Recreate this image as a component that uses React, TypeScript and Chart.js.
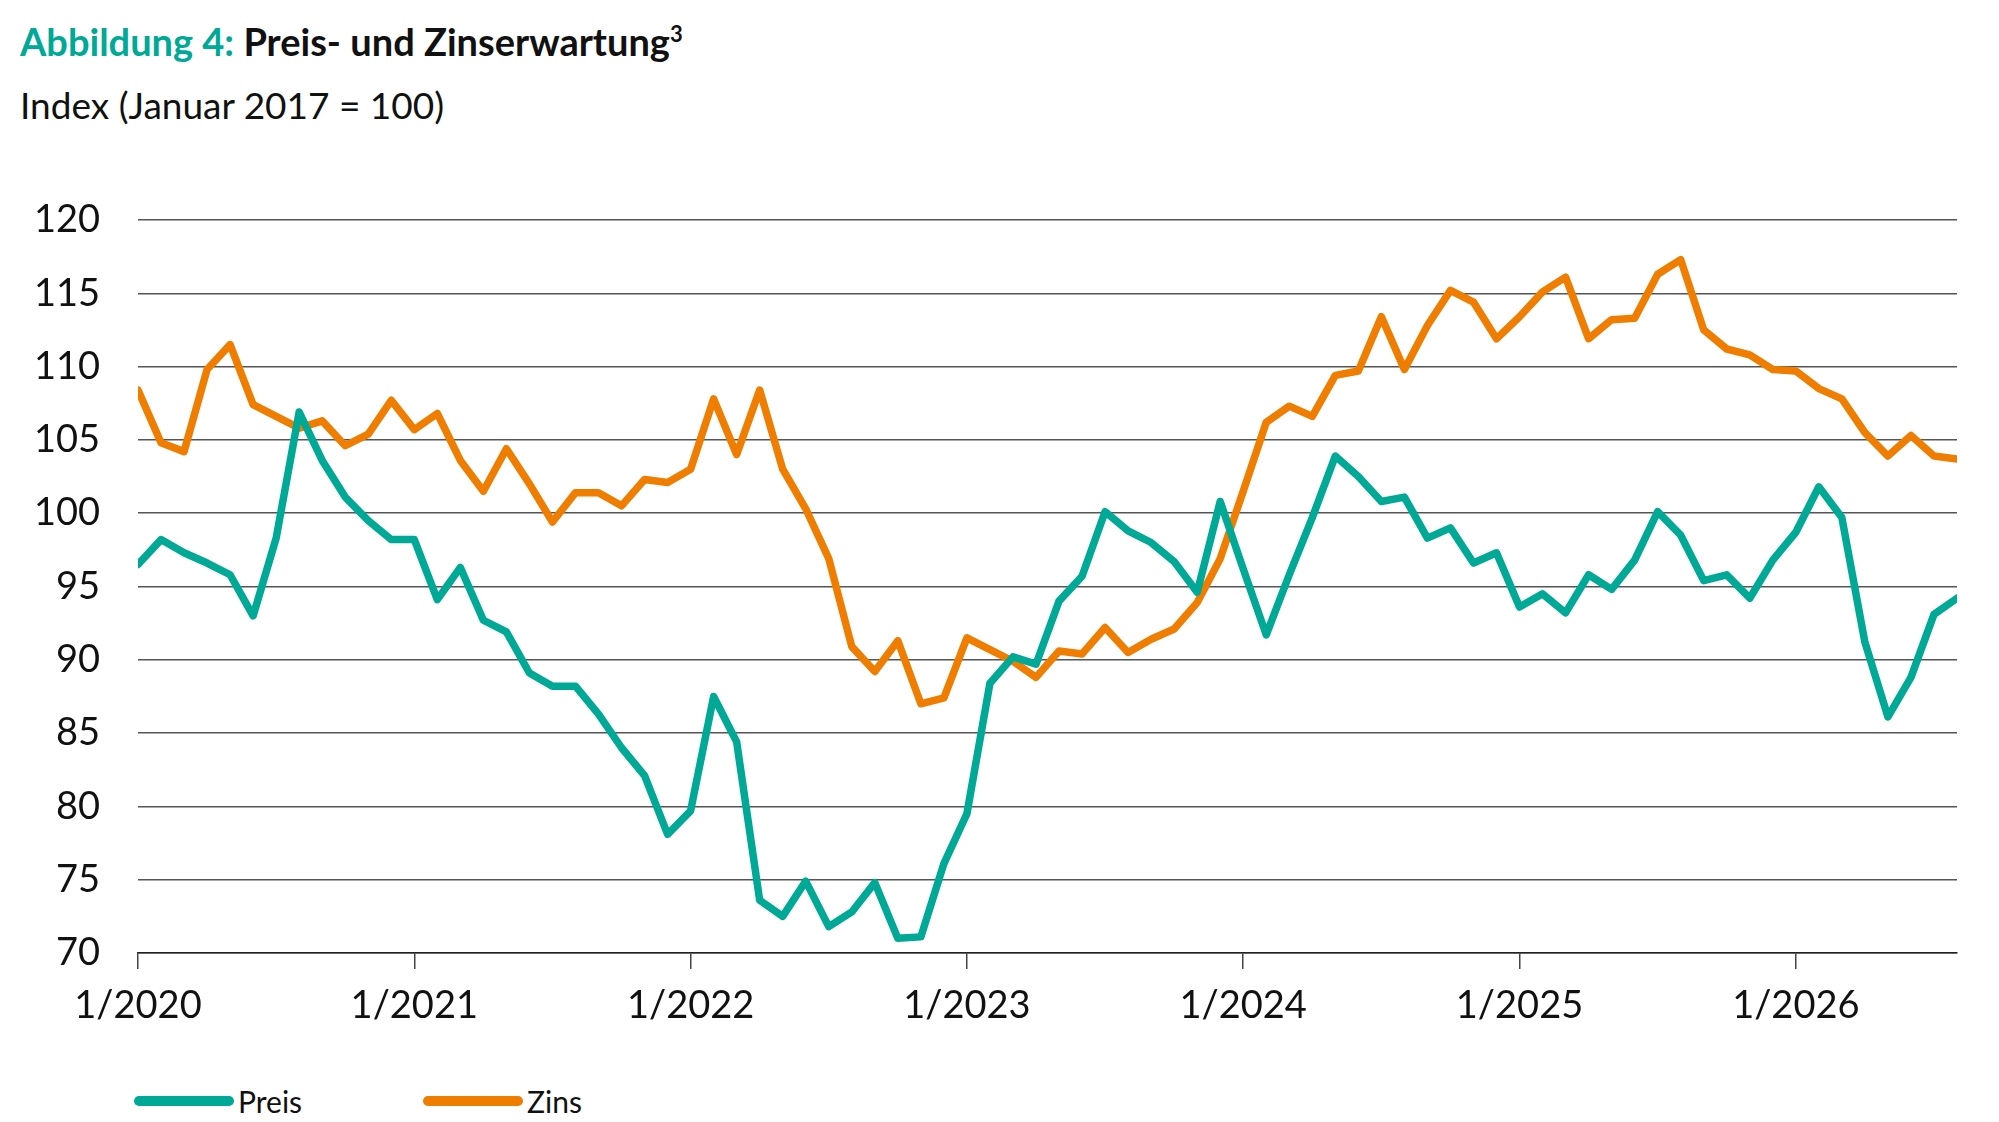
import React, { useEffect, useRef } from "react";
import { Chart, registerables } from "chart.js";
Chart.register(...registerables);

const startYear = 2020;
const preis = [96.5, 98.2, 97.3, 96.6, 95.8, 93.0, 98.3, 106.9, 103.6, 101.1, 99.5, 98.2, 98.2, 94.1, 96.3, 92.7, 91.9, 89.1, 88.2, 88.2, 86.3, 84.0, 82.1, 78.1, 79.7, 87.5, 84.4, 73.6, 72.5, 74.9, 71.8, 72.8, 74.8, 71.0, 71.1, 76.1, 79.5, 88.4, 90.2, 89.7, 94.0, 95.7, 100.1, 98.8, 98.0, 96.7, 94.6, 100.8, 96.2, 91.7, 95.8, 99.7, 103.9, 102.5, 100.8, 101.1, 98.3, 99.0, 96.6, 97.3, 93.6, 94.5, 93.2, 95.8, 94.8, 96.8, 100.1, 98.5, 95.4, 95.8, 94.2, 96.8, 98.7, 101.8, 99.7, 91.2, 86.1, 88.8, 93.1, 94.2];
const zins = [108.4, 104.8, 104.2, 109.8, 111.5, 107.4, 106.6, 105.8, 106.3, 104.6, 105.4, 107.7, 105.7, 106.8, 103.6, 101.5, 104.4, 102.0, 99.4, 101.4, 101.4, 100.5, 102.3, 102.1, 103.0, 107.8, 104.0, 108.4, 103.0, 100.3, 96.9, 90.9, 89.2, 91.3, 87.0, 87.4, 91.5, 90.7, 89.9, 88.8, 90.6, 90.4, 92.2, 90.5, 91.4, 92.1, 93.9, 96.9, 101.5, 106.2, 107.3, 106.6, 109.4, 109.7, 113.4, 109.8, 112.8, 115.2, 114.4, 111.9, 113.4, 115.1, 116.1, 111.9, 113.2, 113.3, 116.3, 117.3, 112.5, 111.2, 110.8, 109.8, 109.7, 108.5, 107.8, 105.5, 103.9, 105.3, 103.9, 103.7];
const yTicks = [70, 75, 80, 85, 90, 95, 100, 105, 110, 115, 120];
const TEAL = "#00A996";
const ORANGE = "#EF7D00";
const FONT = "Lato, 'Open Sans', sans-serif";

export default function App() {
  const ref = useRef<HTMLCanvasElement>(null);
  useEffect(() => {
    const ctx = ref.current!;
    const chart = new Chart(ctx, {
      type: "line",
      data: {
        datasets: [
          { label: "Preis", data: preis.map((v, i) => ({ x: i, y: v })), borderColor: TEAL, borderWidth: 7.5, pointRadius: 0, tension: 0, borderJoinStyle: "round", borderCapStyle: "round" },
          { label: "Zins", data: zins.map((v, i) => ({ x: i, y: v })), borderColor: ORANGE, borderWidth: 7.5, pointRadius: 0, tension: 0, borderJoinStyle: "round", borderCapStyle: "round" },
        ],
      },
      options: {
        animation: false,
        responsive: false,
        layout: { padding: { left: 0, right: 42, top: 70, bottom: 0 } },
        plugins: { legend: { display: false }, tooltip: { enabled: false } },
        scales: {
          x: {
            type: "linear",
            min: 0,
            max: preis.length - 1,
            afterBuildTicks: (s: any) => { s.ticks = [0, 12, 24, 36, 48, 60, 72].map((v) => ({ value: v })); },
            afterFit: (s: any) => { s.height = 77; },
            ticks: { callback: (v: any) => `1/${startYear + Math.round(v / 12)}`, font: { family: FONT, size: 38 }, color: "#111", padding: 14, maxRotation: 0 },
            grid: { drawOnChartArea: false, drawTicks: true, tickLength: 16, color: "#444", lineWidth: 1.5 },
            border: { display: true, color: "#222", width: 1.5 },
          },
          y: {
            min: 70,
            max: 120,
            afterBuildTicks: (s: any) => { s.ticks = yTicks.map((v) => ({ value: v })); },
            afterFit: (s: any) => { s.width = 138; },
            ticks: { font: { family: FONT, size: 38 }, color: "#111", padding: 38 },
            grid: { color: "#555", lineWidth: 1.5, drawTicks: false },
            border: { display: false },
          },
        },
      },
    } as any);
    return () => chart.destroy();
  }, []);

  const legendItem = (color: string, label: string, left: number) => (
    <div style={{ position: "absolute", left, top: 1083, display: "flex", alignItems: "center" }}>
      <div style={{ width: 100, height: 10, borderRadius: 5, background: color }} />
      <span style={{ fontSize: 30, marginLeft: 4, color: "#111" }}>{label}</span>
    </div>
  );

  return (
    <div style={{ position: "fixed", left: 0, top: 0, width: 1999, height: 1122, background: "#fff", fontFamily: FONT, overflow: "hidden" }}>
      <div style={{ position: "absolute", left: 20, top: 18, fontSize: 38, fontWeight: 700, whiteSpace: "nowrap" }}>
        <span style={{ color: TEAL }}>Abbildung 4: </span>
        <span style={{ color: "#111" }}>Preis- und Zinserwartung<sup style={{ fontSize: 22 }}>3</sup></span>
      </div>
      <div style={{ position: "absolute", left: 20, top: 82, fontSize: 37, color: "#111", whiteSpace: "nowrap" }}>Index (Januar 2017 = 100)</div>
      <canvas ref={ref} width={1999} height={880} style={{ position: "absolute", left: 0, top: 150, width: 1999, height: 880 }} />
      {legendItem(TEAL, "Preis", 134)}
      {legendItem(ORANGE, "Zins", 423)}
    </div>
  );
}
